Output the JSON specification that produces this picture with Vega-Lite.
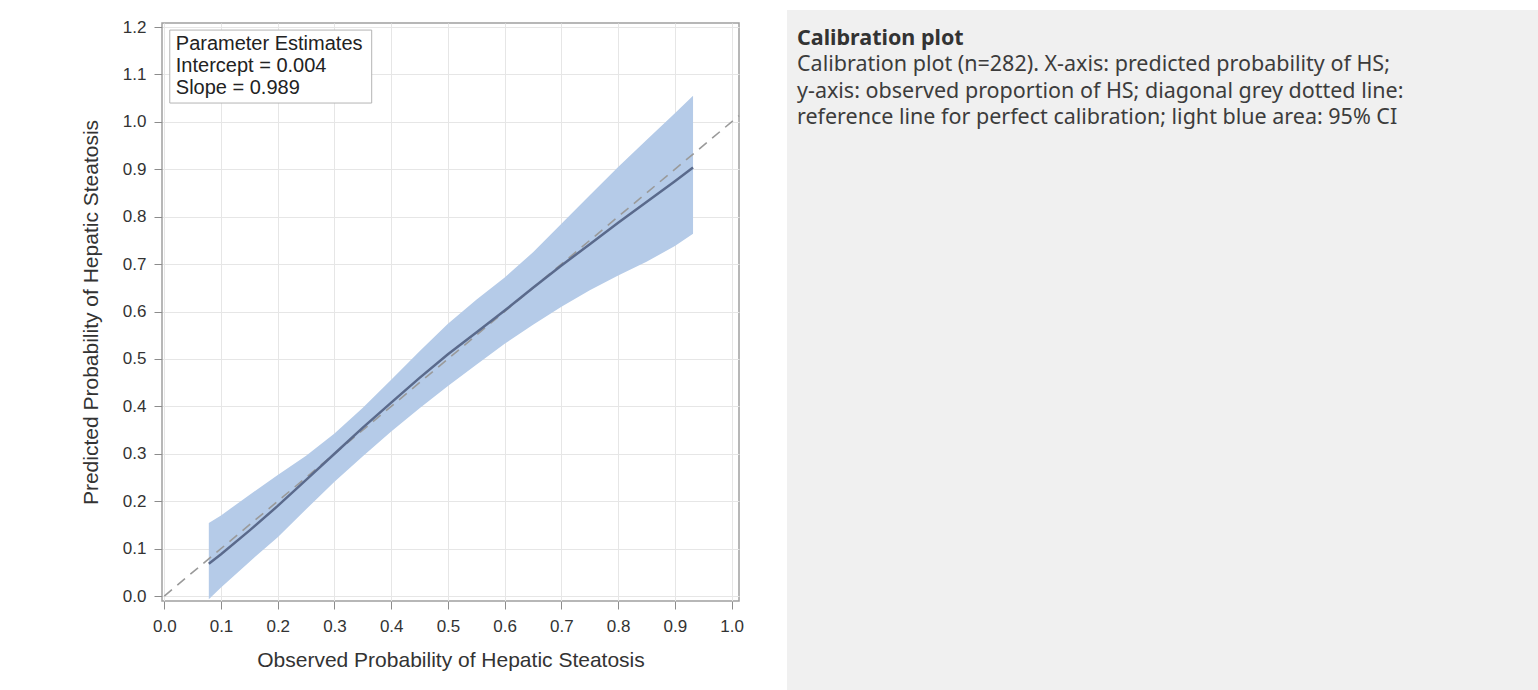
{
  "$schema": "https://vega.github.io/schema/vega-lite/v6.json",
  "padding": {"left": 79, "top": 9, "right": 0, "bottom": 0},
  "background": "white",
  "spacing": 42,
  "config": {
    "axis": {
      "labelFont": "Liberation Sans",
      "titleFont": "Liberation Sans",
      "labelFontSize": 17,
      "titleFontSize": 21,
      "labelColor": "#333333",
      "titleColor": "#333333",
      "titleFontWeight": "normal",
      "tickColor": "#8c8c8c",
      "tickSize": 8,
      "gridColor": "#e6e6e6",
      "domain": false
    }
  },
  "hconcat": [
    {
      "width": 577,
      "height": 578,
      "view": {"stroke": "#a0a0a0", "strokeWidth": 1.5},
      "layer": [
        {
          "data": {"name": "band", "values": [
            {"x": 0.0785, "lo": -0.007, "hi": 0.154, "fit": 0.068},
            {"x": 0.1, "lo": 0.018, "hi": 0.170, "fit": 0.088},
            {"x": 0.15, "lo": 0.072, "hi": 0.213, "fit": 0.138},
            {"x": 0.2, "lo": 0.124, "hi": 0.255, "fit": 0.190},
            {"x": 0.25, "lo": 0.183, "hi": 0.296, "fit": 0.245},
            {"x": 0.3, "lo": 0.241, "hi": 0.343, "fit": 0.300},
            {"x": 0.35, "lo": 0.295, "hi": 0.397, "fit": 0.355},
            {"x": 0.4, "lo": 0.347, "hi": 0.456, "fit": 0.408},
            {"x": 0.45, "lo": 0.396, "hi": 0.516, "fit": 0.460},
            {"x": 0.5, "lo": 0.443, "hi": 0.574, "fit": 0.510},
            {"x": 0.55, "lo": 0.488, "hi": 0.625, "fit": 0.556},
            {"x": 0.6, "lo": 0.532, "hi": 0.672, "fit": 0.602},
            {"x": 0.65, "lo": 0.572, "hi": 0.725, "fit": 0.650},
            {"x": 0.7, "lo": 0.610, "hi": 0.785, "fit": 0.697},
            {"x": 0.75, "lo": 0.645, "hi": 0.845, "fit": 0.742},
            {"x": 0.8, "lo": 0.676, "hi": 0.905, "fit": 0.787},
            {"x": 0.85, "lo": 0.705, "hi": 0.962, "fit": 0.831},
            {"x": 0.9, "lo": 0.738, "hi": 1.018, "fit": 0.875},
            {"x": 0.932, "lo": 0.764, "hi": 1.055, "fit": 0.904}
          ]},
          "mark": {"type": "area", "color": "#b5cbe8", "opacity": 1},
          "encoding": {
            "x": {
              "field": "x", "type": "quantitative",
              "title": "Observed Probability of Hepatic Steatosis",
              "scale": {"domain": [-0.004, 1.013], "nice": false, "zero": false},
              "axis": {"values": [0, 0.1, 0.2, 0.3, 0.4, 0.5, 0.6, 0.7, 0.8, 0.9, 1.0], "format": ".1f", "labelPadding": 9, "titlePadding": 15}
            },
            "y": {
              "field": "lo", "type": "quantitative",
              "title": "Predicted Probability of Hepatic Steatosis",
              "scale": {"domain": [-0.0105, 1.2085], "nice": false, "zero": false},
              "axis": {"values": [0, 0.1, 0.2, 0.3, 0.4, 0.5, 0.6, 0.7, 0.8, 0.9, 1.0, 1.1, 1.2], "format": ".1f", "labelPadding": 8, "titlePadding": 21}
            },
            "y2": {"field": "hi"}
          }
        },
        {
          "data": {"values": [{"d": 0}, {"d": 1.013}]},
          "mark": {"type": "line", "color": "#9a9a9a", "strokeWidth": 1.6, "strokeDash": [10, 7]},
          "encoding": {
            "x": {"field": "d", "type": "quantitative", "title": "Observed Probability of Hepatic Steatosis"},
            "y": {"field": "d", "type": "quantitative", "title": "Predicted Probability of Hepatic Steatosis"}
          }
        },
        {
          "data": {"name": "band"},
          "mark": {"type": "line", "color": "#5a6a8c", "strokeWidth": 2.5},
          "encoding": {
            "x": {"field": "x", "type": "quantitative", "title": "Observed Probability of Hepatic Steatosis"},
            "y": {"field": "fit", "type": "quantitative", "title": "Predicted Probability of Hepatic Steatosis"}
          }
        },
        {
          "data": {"values": [{}]},
          "mark": {"type": "rect", "fill": "white", "stroke": "#b4b4b4", "strokeWidth": 1},
          "encoding": {
            "x": {"datum": 0.0097, "type": "quantitative"},
            "x2": {"datum": 0.3656},
            "y": {"datum": 1.1936, "type": "quantitative"},
            "y2": {"datum": 1.0397}
          }
        },
        {
          "data": {"values": [{}]},
          "mark": {"type": "text", "align": "left", "baseline": "middle", "font": "Liberation Sans", "fontSize": 20, "lineHeight": 22, "color": "#222222"},
          "encoding": {
            "x": {"datum": 0.0203, "type": "quantitative"},
            "y": {"datum": 1.1647, "type": "quantitative"},
            "text": {"value": ["Parameter Estimates", "Intercept = 0.004", "Slope = 0.989"]}
          }
        }
      ]
    },
    {
      "width": 751,
      "height": 668,
      "view": {"stroke": null, "fill": "#f0f0f0"},
      "layer": [
        {
          "data": {"values": [{}]},
          "mark": {"type": "rect", "fill": "#f0f0f0"},
          "encoding": {
            "x": {"datum": 1, "type": "quantitative", "scale": {"domain": [1, 2], "nice": false, "zero": false}, "axis": null},
            "x2": {"datum": 2},
            "y": {"datum": -0.102, "type": "quantitative", "scale": {"domain": [0.392, 25.76], "reverse": true, "nice": false, "zero": false}, "axis": null},
            "y2": {"datum": 25.76}
          }
        },
        {
          "data": {"values": [
            {"row": 1, "text": "Calibration plot"}
          ]},
          "mark": {"type": "text", "align": "left", "baseline": "middle", "font": "Noto Sans", "fontSize": 21.5, "fontWeight": "bold", "color": "#333333"},
          "encoding": {
            "x": {"datum": 1.0133, "type": "quantitative"},
            "y": {"field": "row", "type": "quantitative"},
            "text": {"field": "text"}
          }
        },
        {
          "data": {"values": [
            {"row": 2, "text": "Calibration plot (n=282). X-axis: predicted probability of HS;"},
            {"row": 3, "text": "y-axis: observed proportion of HS; diagonal grey dotted line:"},
            {"row": 4, "text": "reference line for perfect calibration; light blue area: 95% CI"}
          ]},
          "mark": {"type": "text", "align": "left", "baseline": "middle", "font": "Noto Sans", "fontSize": 21.5, "color": "#3c3c3c"},
          "encoding": {
            "x": {"datum": 1.0133, "type": "quantitative"},
            "y": {"field": "row", "type": "quantitative"},
            "text": {"field": "text"}
          }
        }
      ]
    }
  ]
}
